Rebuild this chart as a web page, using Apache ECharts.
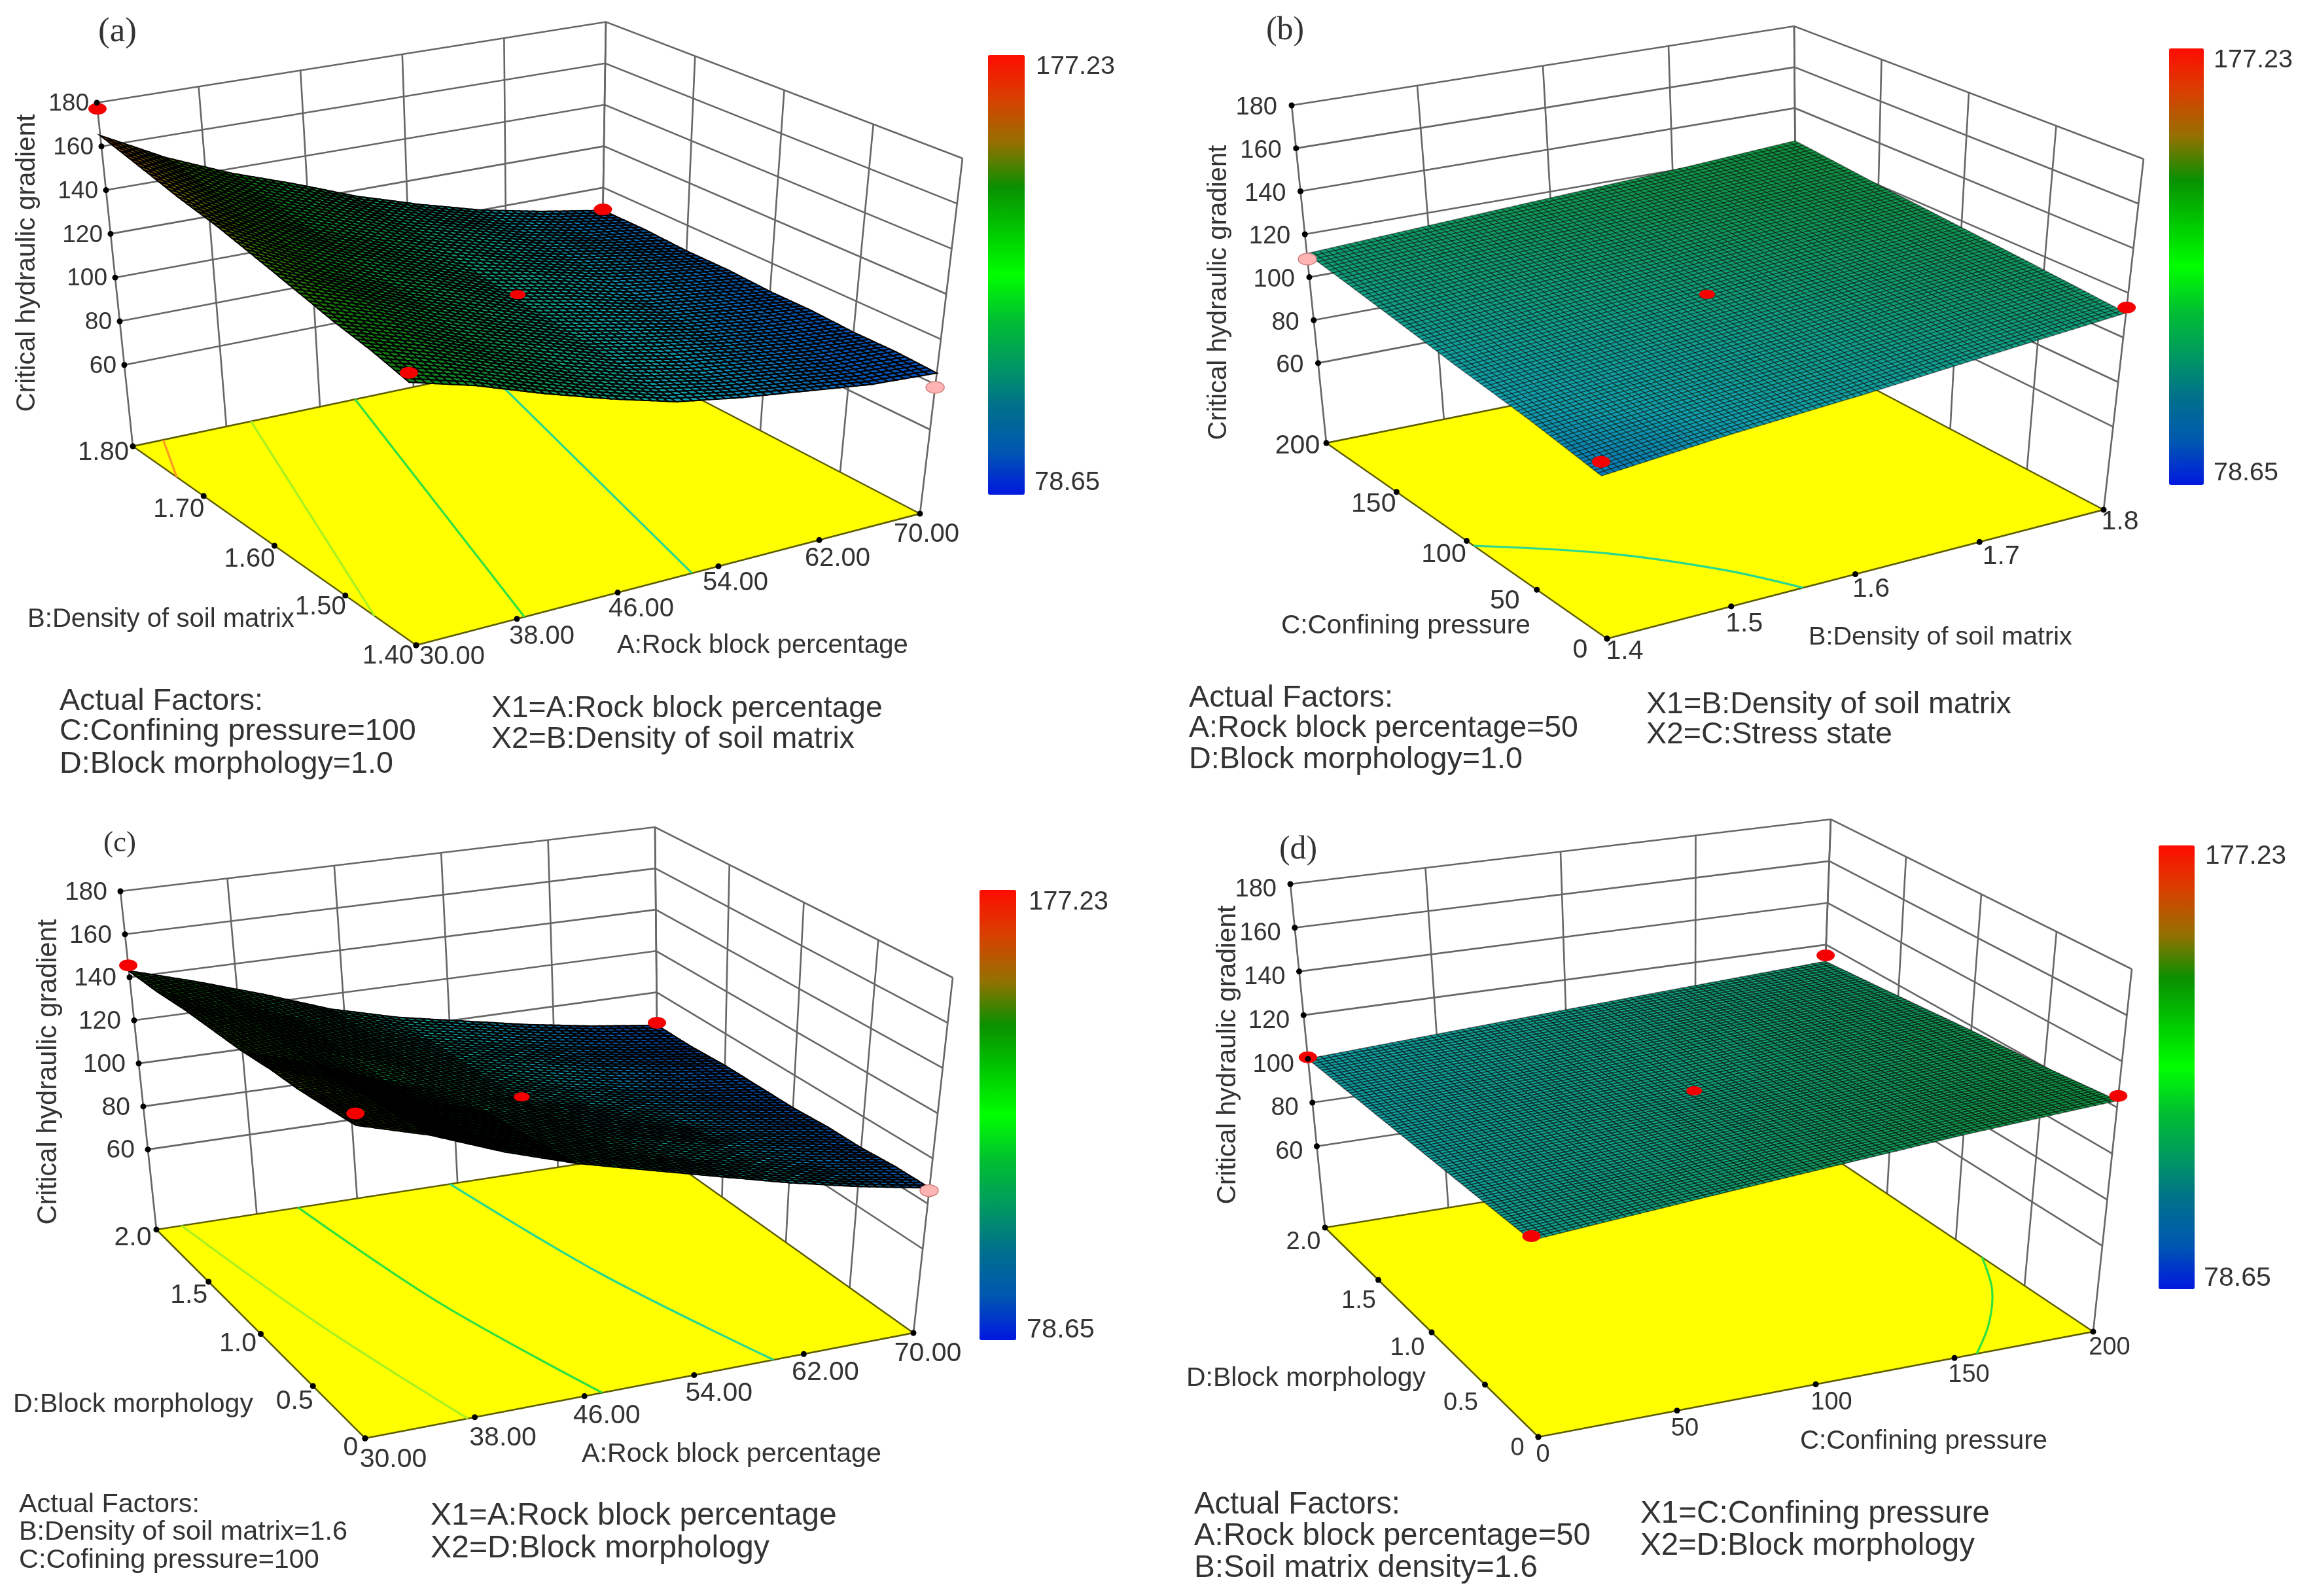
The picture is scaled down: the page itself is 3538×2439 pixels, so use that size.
<!DOCTYPE html>
<html>
<head>
<meta charset="utf-8">
<script src="https://cdn.jsdelivr.net/npm/echarts@6/dist/echarts.min.js"></script>
<style>
html,body{margin:0;padding:0;background:#fff}
#main{width:3538px;height:2439px}
</style>
</head>
<body>
<div id="main"></div>
<script>
// ticks
var pctTicks = [30, 38, 46, 54, 62, 70];
var pctLabels = ['30.00', '38.00', '46.00', '54.00', '62.00', '70.00'];
var densTicksA = [1.4, 1.5, 1.6, 1.7, 1.8];
var densLabelsA = ['1.40', '1.50', '1.60', '1.70', '1.80'];
var densLabelsB = ['1.4', '1.5', '1.6', '1.7', '1.8'];
var pressTicks = [0, 50, 100, 150, 200];
var pressLabels = ['0', '50', '100', '150', '200'];
var morphTicks = [0, 0.5, 1, 1.5, 2];
var morphLabels = ['0', '0.5', '1.0', '1.5', '2.0'];
var gradTicks = [60, 80, 100, 120, 140, 160, 180];
var gradFloor = 22.8;

// colour bar ends
var barMin = 78.65;
var barMax = 177.23;

// surfaces, rows = second factor low to high, columns = first factor low to high
var surfaceA = [
  [135, 127, 117, 108, 100, 95, 91, 87, 85],
  [139, 130, 120, 110, 102, 96, 92, 88, 86],
  [142, 133, 122, 113, 104, 98, 93, 89, 86],
  [146, 136, 125, 115, 106, 100, 94, 90, 87],
  [150, 138, 127, 118, 108, 102, 95, 91, 87],
  [154, 141, 130, 120, 110, 104, 97, 92, 88],
  [157, 144, 132, 122, 113, 105, 98, 93, 88],
  [161, 147, 135, 125, 115, 107, 99, 93, 89],
  [165, 150, 138, 128, 117, 108, 100, 94, 89]
];
var surfaceB = [
  [92, 97, 101, 106, 111],
  [97, 101, 105, 110, 114],
  [101, 105, 109, 113, 117],
  [106, 110, 113, 117, 120],
  [111, 114, 117, 120, 124]
];
var surfaceC = [
  [155, 146, 134, 124, 116, 108, 100, 93, 87],
  [153, 144, 132, 122, 114, 106, 99, 92, 87],
  [151, 142, 130, 120, 112, 105, 98, 92, 86],
  [150, 140, 128, 118, 110, 103, 96, 91, 86],
  [148, 138, 126, 117, 108, 101, 95, 90, 85],
  [147, 137, 126, 116, 107, 100, 94, 89, 85],
  [146, 136, 125, 115, 106, 100, 94, 89, 85],
  [144, 135, 124, 114, 105, 99, 93, 88, 84],
  [143, 134, 124, 113, 105, 99, 93, 88, 84]
];
var surfaceD = [
  [104, 109, 114, 119, 123],
  [103, 107, 112, 116, 120],
  [102, 106, 109, 114, 118],
  [101, 104, 108, 112, 115],
  [100, 103, 106, 109, 112]
];

// design points [first factor, second factor, gradient]
var pointsA = [[30, 1.8, 177.23], [70, 1.8, 89.5], [70, 1.4, 78.65], [30, 1.4, 139], [50, 1.6, 110.2]];
var pointsB = [[1.4, 200, 108.4], [1.8, 0, 113.4], [1.4, 0, 98], [1.6, 100, 109.6]];
var pointsC = [[30, 2, 145.6], [70, 2, 85.2], [70, 0, 85.8], [30, 0, 160], [50, 1, 109.3]];
var pointsD = [[0, 2, 100.7], [200, 2, 114.9], [200, 0, 125], [0, 0, 105.7], [100, 1, 109.5]];

// contours on the floor [level, [[first factor, second factor], ...]]
var contoursA = [
  [160, [[32.6, 1.8], [30, 1.738]]],
  [140, [[40.1, 1.8], [30, 1.459]]],
  [120, [[49, 1.8], [38.6, 1.4]]],
  [100, [[60.3, 1.8], [51.9, 1.4]]]
];
var contoursB = [
  [100, [[1.4, 95], [1.476, 64], [1.528, 30], [1.558, 0]]]
];
var contoursC = [
  [140, [[32, 2], [34.4, 1], [37.5, 0]]],
  [120, [[41.3, 2], [43.6, 1], [47.3, 0]]],
  [100, [[53.4, 2], [56, 1], [59.8, 0]]]
];
var contoursD = [
  [120, [[200, 0.81], [189, 0.52], [174, 0.24], [158, 0]]]
];

var barColors = ['#0018e0', '#0058b0', '#00708c', '#009a60', '#00c030', '#00ff00', '#00c800', '#0a9000', '#967000', '#d84000', '#ff0c00'];
// the lit mesh reads a bit differently from the bar
var meshColors = ['#0030c0', '#0560b8', '#10a0b0', '#10a080', '#109850', '#109030', '#108010', '#308000', '#907000', '#d04000', '#ff1000'];
var contourColors = {160: '#ff9a20', 140: '#a8f020', 120: '#30e040', 100: '#28d890'};

var panels = [
  {
    x1: pctTicks, x1L: pctLabels, x2: densTicksA, x2L: densLabelsA, surface: surfaceA, points: pointsA, contours: contoursA,
    sub: 8, mesh: 2.1, meshCol: '#000',
    top: {F: [621, 423], R: [1471, 242], L: [148, 157], B: [926, 33.5]},
    floor: {F: [636, 986], R: [1406, 785], L: [203, 682], B: [918, 531]},
    x1Off: [[55, 18], [38, 27], [36, 25], [26, 26], [28, 29], [10, 32]],
    x2Off: [[-43, 17], [-38, 18], [-38, 21], [-38, 21], [-45, 10]],
    zOff: [-12, 2], tickFont: 40, zFont: 37,
    bar: [1510, 84, 56, 672], barText: [[1583, 102, 121], [1581, 738, 100]],
    tag: ['(a)', 150, 49, 59],
    yName: [42, 402, 455],
    texts: [
      ['B:Density of soil matrix', 42, 947, 408], ['A:Rock block percentage', 943, 987, 445],
      ['Actual Factors:', 91, 1072, 311], ['C:Confining pressure=100', 91, 1118, 545], ['D:Block morphology=1.0', 91, 1168, 510],
      ['X1=A:Rock block percentage', 751, 1083, 598], ['X2=B:Density of soil matrix', 751, 1130, 555]
    ]
  },
  {
    x1: densTicksA, x1L: densLabelsB, x2: pressTicks, x2L: pressLabels, surface: surfaceB, points: pointsB, contours: contoursB,
    sub: 20, mesh: 1.5, meshCol: 'rgba(0,0,0,0.45)',
    top: {F: [2437, 411], R: [3276, 243], L: [1974, 161], B: [2742, 40]},
    floor: {F: [2456, 976], R: [3215, 779], L: [2027, 677], B: [2746, 532]},
    x1Off: [[27, 20], [20, 27], [24, 23], [33, 22], [25, 19]],
    x2Off: [[-41, 18], [-49, 17], [-35, 21], [-35, 19], [-44, 5]],
    zOff: [-22, 4], tickFont: 41, zFont: 38,
    bar: [3315, 74, 53, 667], barText: [[3383, 92, 121], [3383, 723, 99]],
    tag: ['(b)', 1935, 47, 58],
    yName: [1863, 447, 451],
    texts: [
      ['C:Confining pressure', 1958, 957, 381], ['B:Density of soil matrix', 2764, 974, 403],
      ['Actual Factors:', 1817, 1067, 312], ['A:Rock block percentage=50', 1817, 1113, 595], ['D:Block morphology=1.0', 1817, 1161, 510],
      ['X1=B:Density of soil matrix', 2516, 1077, 558], ['X2=C:Stress state', 2516, 1123, 376]
    ]
  },
  {
    x1: pctTicks, x1L: pctLabels, x2: morphTicks, x2L: morphLabels, surface: surfaceC, points: pointsC, contours: contoursC,
    sub: 8, mesh: 2.3, meshCol: '#000',
    top: {F: [541, 1629], R: [1456, 1494], L: [184, 1362], B: [1001, 1264]},
    floor: {F: [558, 2198], R: [1396, 2037], L: [239, 1879], B: [1006, 1760]},
    x1Off: [[43, 33], [43, 32], [34, 30], [38, 28], [33, 28], [22, 32]],
    x2Off: [[-22, 15], [-28, 23], [-35, 15], [-30, 21], [-36, 13]],
    zOff: [-20, 2], tickFont: 41, zFont: 39,
    bar: [1497, 1360, 56, 688], barText: [[1572, 1379, 122], [1569, 2033, 104]],
    tag: ['(c)', 158, 1289, 50],
    yName: [75, 1638, 467],
    texts: [
      ['A:Rock block percentage', 889, 2223, 458], ['D:Block morphology', 20, 2147, 367],
      ['Actual Factors:', 29, 2300, 276], ['B:Density of soil matrix=1.6', 29, 2342, 502], ['C:Cofining pressure=100', 29, 2385, 459],
      ['X1=A:Rock block percentage', 658, 2317, 621], ['X2=D:Block morphology', 658, 2367, 518]
    ]
  },
  {
    x1: pressTicks, x1L: pressLabels, x2: morphTicks, x2L: morphLabels, surface: surfaceD, points: pointsD, contours: contoursD,
    sub: 20, mesh: 1.5, meshCol: 'rgba(0,0,0,0.55)',
    top: {F: [2331, 1614], R: [3258, 1481], L: [1972, 1351], B: [2798, 1252]},
    floor: {F: [2351, 2196], R: [3199, 2035], L: [2025, 1876], B: [2779, 1754]},
    x1Off: [[7, 28], [12, 28], [24, 28], [22, 26], [25, 25]],
    x2Off: [[-32, 18], [-37, 29], [-37, 25], [-30, 33], [-33, 23]],
    zOff: [-21, 9], tickFont: 38, zFont: 38,
    bar: [3299, 1292, 55, 678], barText: [[3370, 1309, 124], [3368, 1954, 103]],
    tag: ['(d)', 1955, 1299, 58],
    yName: [1877, 1612, 457],
    texts: [
      ['C:Confining pressure', 2751, 2203, 378], ['D:Block morphology', 1813, 2107, 366],
      ['Actual Factors:', 1825, 2300, 315], ['A:Rock block percentage=50', 1825, 2348, 606], ['B:Soil matrix density=1.6', 1825, 2397, 525],
      ['X1=C:Confining pressure', 2507, 2314, 534], ['X2=D:Block morphology', 2507, 2363, 511]
    ]
  }
];

var sans = '"Liberation Sans"';
var serif = '"Liberation Serif"';
var textCol = '#333';
var meas = document.createElement('canvas').getContext('2d');
function fitSize(str, w, fam) {
  meas.font = '100px ' + fam;
  return 100 * w / meas.measureText(str).width;
}

function mix(a, b, t) { return [a[0] + (b[0] - a[0]) * t, a[1] + (b[1] - a[1]) * t]; }

// box corners -> picture, u,v,w all 0..1
function place(p, u, v, w) {
  function onSheet(s) { return mix(mix(s.F, s.R, u), mix(s.L, s.B, u), v); }
  return mix(onSheet(p.floor), onSheet(p.top), w);
}
function uOf(p, x) { return (x - p.x1[0]) / (p.x1[p.x1.length - 1] - p.x1[0]); }
function vOf(p, x) { return (x - p.x2[0]) / (p.x2[p.x2.length - 1] - p.x2[0]); }
function wOf(z) { return (z - gradFloor) / (180 - gradFloor); }
function surfAt(rows, fi, fj) {
  var i = Math.min(Math.floor(fi), rows[0].length - 2), j = Math.min(Math.floor(fj), rows.length - 2);
  var a = fi - i, b = fj - j;
  return (rows[j][i] * (1 - a) + rows[j][i + 1] * a) * (1 - b) + (rows[j + 1][i] * (1 - a) + rows[j + 1][i + 1] * a) * b;
}
function base(extra) {
  var s = {type: 'custom', coordinateSystem: 'cartesian2d', silent: true, animation: false, clip: false};
  for (var k in extra) s[k] = extra[k];
  return s;
}

function wallSeries(p) {
  return base({
    z: 1, data: [[0, 0]],
    renderItem: function (params, api) {
      var kids = [];
      var style = {stroke: '#666', lineWidth: 2.6, fill: null};
      gradTicks.forEach(function (t) {
        var w = wOf(t);
        kids.push({type: 'polyline', shape: {points: [place(p, 0, 1, w), place(p, 1, 1, w), place(p, 1, 0, w)].map(api.coord)}, style: style});
      });
      p.x1.forEach(function (t) {
        var u = uOf(p, t);
        kids.push({type: 'polyline', shape: {points: [place(p, u, 1, 0), place(p, u, 1, 1)].map(api.coord)}, style: style});
      });
      p.x2.forEach(function (t) {
        var v = vOf(p, t);
        kids.push({type: 'polyline', shape: {points: [place(p, 1, v, 0), place(p, 1, v, 1)].map(api.coord)}, style: style});
      });
      return {type: 'group', children: kids};
    }
  });
}

function floorSeries(p) {
  return base({
    z: 2, data: [[0, 0]],
    renderItem: function (params, api) {
      var pts = [place(p, 0, 0, 0), place(p, 1, 0, 0), place(p, 1, 1, 0), place(p, 0, 1, 0)].map(api.coord);
      return {type: 'polygon', shape: {points: pts}, style: {fill: '#ffff00', stroke: '#5c5c00', lineWidth: 2.5}};
    }
  });
}

function contourSeries(p) {
  return base({
    z: 3, data: p.contours.map(function (c, i) { return [i, 0]; }),
    renderItem: function (params, api) {
      var c = p.contours[api.value(0)];
      var pts = c[1].map(function (q) { return api.coord(place(p, uOf(p, q[0]), vOf(p, q[1]), 0)); });
      return {type: 'polyline', shape: {points: pts, smooth: 0.35}, style: {stroke: contourColors[c[0]], lineWidth: 3.2, fill: null}};
    }
  });
}

function surfaceSeries(p) {
  var rows = p.surface, nv = rows.length, nu = rows[0].length, sub = p.sub, cells = [];
  for (var j = nv - 2; j >= 0; j--) for (var i = nu - 2; i >= 0; i--) cells.push([i, j]);
  return base({
    z: 4, data: cells,
    renderItem: function (params, api) {
      var ci = api.value(0), cj = api.value(1), kids = [];
      function vert(fi, fj, out) {
        var h = surfAt(rows, fi, fj);
        out.sum += h;
        return api.coord(place(p, fi / (nu - 1), fj / (nv - 1), wOf(h)));
      }
      for (var b = sub - 1; b >= 0; b--) {
        for (var a = sub - 1; a >= 0; a--) {
          var o = {sum: 0};
          var pts = [
            vert(ci + a / sub, cj + b / sub, o), vert(ci + (a + 1) / sub, cj + b / sub, o),
            vert(ci + (a + 1) / sub, cj + (b + 1) / sub, o), vert(ci + a / sub, cj + (b + 1) / sub, o)
          ];
          var t = Math.max(0, Math.min(1, (o.sum / 4 - barMin) / (barMax - barMin)));
          kids.push({type: 'polygon', shape: {points: pts}, style: {fill: echarts.color.lerp(t, meshColors), stroke: p.meshCol, lineWidth: p.mesh}});
        }
      }
      return {type: 'group', children: kids};
    }
  });
}

function pointSeries(p) {
  return base({
    z: 5, data: p.points.map(function (q, i) { return [i, 0]; }),
    renderItem: function (params, api) {
      var q = p.points[api.value(0)];
      var u = uOf(p, q[0]), v = vOf(p, q[1]);
      var under = q[2] < surfAt(p.surface, u * (p.surface[0].length - 1), v * (p.surface.length - 1));
      var c = api.coord(place(p, u, v, wOf(q[2])));
      var inner = u > 0 && u < 1;
      return {
        type: 'ellipse', shape: {cx: c[0], cy: c[1], rx: inner ? 12 : 14, ry: inner ? 7 : 9},
        style: under ? {fill: '#ffb4b4', stroke: '#d08080', lineWidth: 1.5} : {fill: '#f40000'}
      };
    }
  });
}

function tickSeries(p) {
  return base({
    z: 6, data: [[0, 0]],
    renderItem: function (params, api) {
      var kids = [];
      function dot(c) { kids.push({type: 'circle', shape: {cx: c[0], cy: c[1], r: 4.5}, style: {fill: '#000'}}); }
      function label(str, x, y, size, align) {
        kids.push({type: 'text', style: {text: str, x: x, y: y, fontFamily: sans, fontSize: size, fill: textCol, align: align, verticalAlign: 'middle'}});
      }
      gradTicks.forEach(function (t) {
        var c = api.coord(place(p, 0, 1, wOf(t)));
        dot(c);
        label(String(t), c[0] + p.zOff[0], c[1] + p.zOff[1], p.zFont, 'right');
      });
      p.x1.forEach(function (t, i) {
        var c = api.coord(place(p, uOf(p, t), 0, 0));
        dot(c);
        label(p.x1L[i], c[0] + p.x1Off[i][0], c[1] + p.x1Off[i][1], p.tickFont, 'center');
      });
      p.x2.forEach(function (t, i) {
        var c = api.coord(place(p, 0, vOf(p, t), 0));
        dot(c);
        label(p.x2L[i], c[0] + p.x2Off[i][0], c[1] + p.x2Off[i][1], p.tickFont, 'center');
      });
      return {type: 'group', children: kids};
    }
  });
}

var series = [], visualMaps = [], graphics = [];
function freeText(str, left, cy, w, fam) {
  graphics.push({type: 'text', x: left, y: cy, silent: true,
    style: {text: str, fontFamily: fam, fontSize: fitSize(str, w, fam), fill: textCol, align: 'left', verticalAlign: 'middle'}});
}
panels.forEach(function (p) {
  series.push(wallSeries(p), floorSeries(p), contourSeries(p), surfaceSeries(p), pointSeries(p), tickSeries(p));
  visualMaps.push({
    type: 'continuous', min: barMin, max: barMax, seriesIndex: [], calculable: false, padding: 0, text: null,
    orient: 'vertical', left: p.bar[0], top: p.bar[1], itemWidth: p.bar[2], itemHeight: p.bar[3],
    inRange: {color: barColors}
  });
  freeText(String(barMax), p.barText[0][0], p.barText[0][1], p.barText[0][2], sans);
  freeText(String(barMin), p.barText[1][0], p.barText[1][1], p.barText[1][2], sans);
  freeText(p.tag[0], p.tag[1], p.tag[2], p.tag[3], serif);
  p.texts.forEach(function (t) { freeText(t[0], t[1], t[2], t[3], sans); });
  var yn = 'Critical hydraulic gradient';
  graphics.push({type: 'text', x: p.yName[0], y: p.yName[1], rotation: Math.PI / 2, silent: true,
    style: {text: yn, fontFamily: sans, fontSize: fitSize(yn, p.yName[2], sans), fill: textCol, align: 'center', verticalAlign: 'middle'}});
});

var myChart = echarts.init(document.getElementById('main'));
myChart.setOption({
  backgroundColor: '#fff',
  animation: false,
  grid: {left: 0, right: 0, top: 0, bottom: 0},
  xAxis: {type: 'value', min: 0, max: 3538, show: false},
  yAxis: {type: 'value', min: 0, max: 2439, inverse: true, show: false},
  tooltip: {show: false},
  visualMap: visualMaps,
  graphic: {elements: graphics},
  series: series
});
</script>
</body>
</html>
